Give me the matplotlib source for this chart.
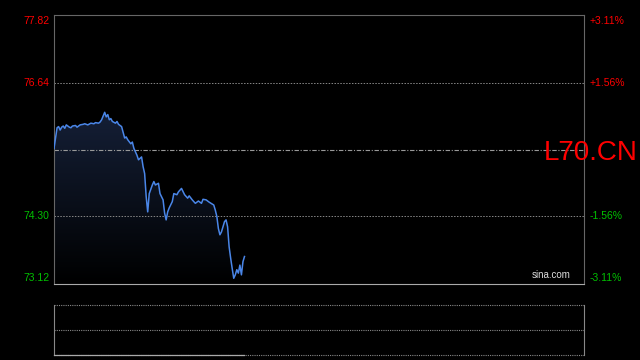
import matplotlib
matplotlib.use("Agg")
import matplotlib.pyplot as plt
import numpy as np
from matplotlib.colors import LinearSegmentedColormap

plt.rcParams['font.family'] = ['Liberation Sans', 'DejaVu Sans']

# ---- data ----
symbol = "L70.CN"
prev_close = 75.47
price_min, price_max = 73.12, 77.82
total_minutes = 345
left_ticks = [77.82, 76.64, 74.30, 73.12]
right_ticks = ["+3.11%", "+1.56%", "-1.56%", "-3.11%"]

minutes = [0, 2, 3, 4, 5, 6, 7, 8, 10, 11, 12, 14, 15, 17, 19, 20, 22, 24, 26, 27, 29, 30, 31, 33, 34, 35, 36, 37, 38, 40, 41, 42,
           43, 44, 46, 47, 48, 50, 51, 52, 54, 55, 57, 58, 59, 60, 61, 62, 64, 65, 66, 68, 69, 71,
           72, 73, 74, 75, 77, 78, 80, 81, 83, 85, 87, 88, 90, 92, 94, 96, 97, 99, 101, 104, 105, 106, 107,
           108, 109, 111, 112, 113, 114, 115, 116, 117, 118, 119, 120, 121, 122, 123, 124]
prices = [75.49, 75.85, 75.87, 75.81, 75.86, 75.88, 75.84, 75.90, 75.86, 75.85, 75.88, 75.89, 75.86, 75.90, 75.91, 75.92, 75.90, 75.93, 75.92, 75.94, 75.93, 75.95, 75.99, 76.12, 76.04, 76.08, 75.99, 76.01, 75.96, 75.93, 75.96, 75.91,
          75.89, 75.87, 75.67, 75.69, 75.64, 75.57, 75.60, 75.49, 75.37, 75.29, 75.34, 75.17, 75.05, 74.65, 74.38, 74.70, 74.85, 74.91, 74.85, 74.88, 74.70, 74.59,
          74.36, 74.24, 74.38, 74.45, 74.56, 74.70, 74.68, 74.73, 74.79, 74.68, 74.62, 74.66, 74.59, 74.53, 74.57, 74.53, 74.60, 74.59, 74.55, 74.50, 74.41, 74.30, 74.09,
          73.98, 74.03, 74.21, 74.24, 74.12, 73.77, 73.57, 73.39, 73.22, 73.28, 73.37, 73.31, 73.45, 73.28, 73.51, 73.60]

x = np.array(minutes, dtype=float)
y = np.array(prices)

fig = plt.figure(figsize=(6.4, 3.6), dpi=100, facecolor='black')
ax = fig.add_axes([54/640, 1-284/360, 530/640, 269/360])
ax.set_facecolor('black')
ax.set_xlim(0, total_minutes)
ax.set_ylim(price_min, price_max)

# gradient fill under line
cmap = LinearSegmentedColormap.from_list('g', ['#000000', '#152038'])
grad = np.linspace(0, 1, 256).reshape(-1, 1)
poly = ax.fill_between(x, y, price_min, color='none', lw=0)
im = ax.imshow(grad, extent=[0, total_minutes, price_min, 76.2], origin='lower',
               cmap=cmap, aspect='auto', zorder=1)
path = poly.get_paths()[0]
im.set_clip_path(path, transform=ax.transData)

ax.plot(x, y, color='#4a86e8', lw=1.1, zorder=3)

# grid lines
for v in [76.64, 74.30]:
    ax.axhline(v, color='#888888', lw=0.7, ls=(0, (1.5, 1.5)), zorder=2)
ax.axhline(prev_close, color='#999999', lw=0.8, ls=(0, (4, 1.5, 1, 1.5)), zorder=2)

for s in ax.spines.values():
    s.set_color('#666666')
    s.set_linewidth(0.8)
ax.spines['bottom'].set_color('#aaaaaa')
ax.set_xticks([])
ax.set_yticks([])

# left / right labels
colors = ['#ff0000', '#ff0000', '#00c000', '#00c000']
va = ['top', 'center', 'center', 'bottom']
offs = [-1, 0, 0, 1]
for v, r, c, a, o in zip(left_ticks, right_ticks, colors, va, offs):
    yy = v + o * 0.02
    ax.text(-0.008, yy, f"{v:.2f}", transform=ax.get_yaxis_transform(), ha='right', va=a,
            color=c, fontsize=7.5)
    ax.text(1.01, yy, r, transform=ax.get_yaxis_transform(), ha='left', va=a,
            color=c, fontsize=7.5)

ax.annotate(symbol, xy=(1.0 - 40/530, prev_close), xycoords=ax.get_yaxis_transform(),
            xytext=(0, -7.3), textcoords='offset points', ha='left', va='baseline',
            color='#ff0000', fontsize=20, zorder=5, annotation_clip=False)
ax.text(0.975, 0.015, "sina.com", transform=ax.transAxes, ha='right', va='bottom',
        color='#dddddd', fontsize=7)

# bottom panel
ax2 = fig.add_axes([54/640, 1-355/360, 530/640, 50/360])
ax2.set_facecolor('black')
ax2.set_xlim(0, total_minutes)
ax2.set_ylim(0, 2)
for s in ['top', 'bottom']:
    ax2.spines[s].set_visible(False)
for s in ['left', 'right']:
    ax2.spines[s].set_color('#888888')
    ax2.spines[s].set_linewidth(0.8)
for v in [0, 1, 2]:
    ax2.axhline(v, color='#888888', lw=0.8, ls=(0, (1, 1)), clip_on=False)
ax2.plot([x[0], x[-1]], [0, 0], color='#aaaaaa', lw=0.9, clip_on=False, zorder=4)
ax2.set_xticks([])
ax2.set_yticks([])

fig.savefig('out.png', dpi=100, facecolor='black')
